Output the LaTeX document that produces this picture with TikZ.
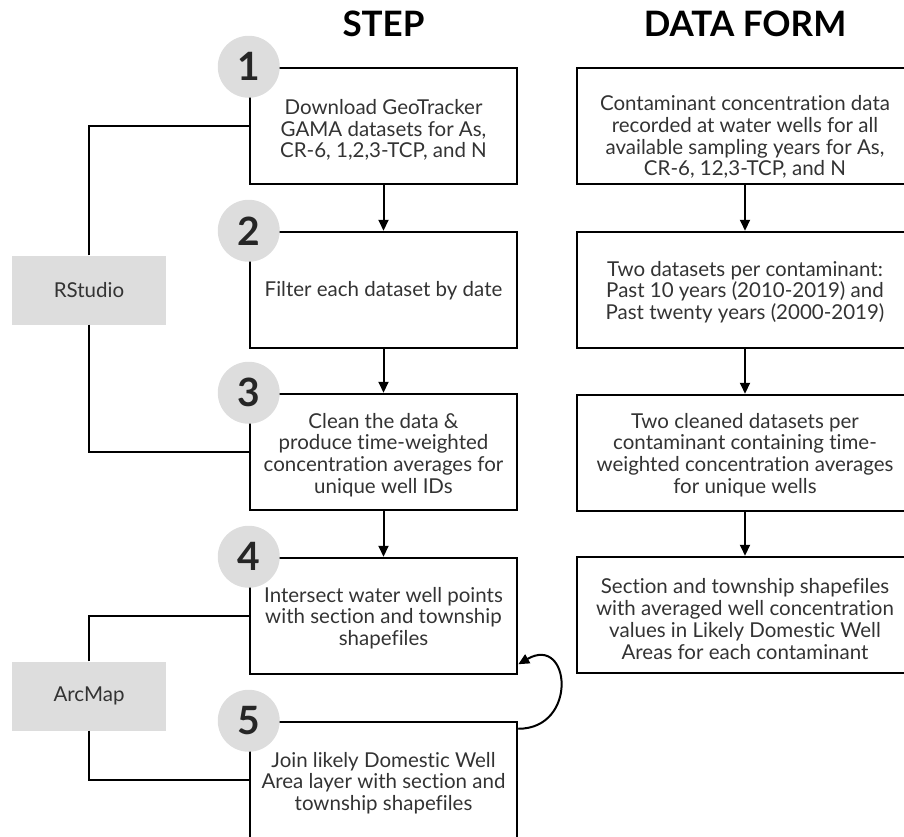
\documentclass[tikz,border=0pt]{standalone}
\usepackage{fontspec}
\setmainfont{Lato}[Ligatures=NoCommon]
\usetikzlibrary{positioning,arrows.meta}

\definecolor{softgray}{HTML}{DDDDDD}
\definecolor{inkgray}{HTML}{333333}

\begin{document}
\begin{tikzpicture}[
    x=1pt, y=-1pt,
    stepbox/.style={
        rectangle,
        draw=black,
        line width=2.5pt,
        minimum width=267pt,
        minimum height=116pt
    },
    formbox/.style={
        stepbox,
        minimum width=336pt
    },
    boxtext/.style={
        align=center,
        inner sep=0pt,
        text=inkgray,
        font=\fontsize{20.5}{21.7}\selectfont
    },
    num/.style={
        circle,
        fill=softgray,
        minimum size=62pt,
        inner sep=0pt,
        text=black!85,
        font=\fontsize{39}{39}\selectfont\bfseries
    },
    tool/.style={
        rectangle,
        fill=softgray,
        minimum width=154pt,
        minimum height=69pt,
        text=inkgray,
        font=\fontsize{20.5}{22}\selectfont
    },
    header/.style={
        font=\fontsize{35}{35}\selectfont\bfseries
    },
    arrow/.style={
        -{Triangle[length=11pt,width=10pt]},
        line width=2pt
    },
    link/.style={
        line width=2pt
    }
]
\useasboundingbox (0,0) rectangle (904,836);
\clip (0,0) rectangle (904,836);

% Headers
\node[header] (steptitle) at (383.5,24) {STEP};
\node[header] (formtitle) at (745,24) {DATA FORM};

% Steps
\node[stepbox] (step1) at (383.5,126) {};
\node[stepbox] (step2) at (383.5,290) {};
\node[stepbox] (step3) at (383.5,452) {};
\node[stepbox] (step4) at (383.5,616) {};
\node[stepbox] (step5) at (383.5,780) {};
\node[boxtext] (text1) at (383.5,130) {Download GeoTracker\\GAMA datasets for As,\\CR-6, 1,2,3-TCP, and N};
\node[boxtext] (text2) at (383.5,291) {Filter each dataset by date};
\node[boxtext] (text3) at (383.5,455) {Clean the data \&\\produce time-weighted\\concentration averages for\\unique well IDs};
\node[boxtext] (text4) at (383.5,618) {Intersect water well points\\with section and township\\shapefiles};
\node[boxtext] (text5) at (383.5,783) {Join likely Domestic Well\\Area layer with section and\\township shapefiles};

% Step numbers
\node[num] (num1) at (step1.north west) {1};
\node[num] (num2) at (step2.north west) {2};
\node[num] (num3) at (step3.north west) {3};
\node[num] (num4) at (step4.north west) {4};
\node[num] (num5) at (step5.north west) {5};

% Data forms
\node[formbox] (form1) at (745,126) {};
\node[formbox] (form2) at (745,290) {};
\node[formbox] (form3) at (745,453) {};
\node[formbox] (form4) at (745,615) {};
\node[boxtext] (formtext1) at (745,137) {Contaminant concentration data\\recorded at water wells for all\\available sampling years for As,\\CR-6, 12,3-TCP, and N};
\node[boxtext] (formtext2) at (745,292) {Two datasets per contaminant:\\Past 10 years (2010-2019) and\\Past twenty years (2000-2019)};
\node[boxtext] (formtext3) at (745,455) {Two cleaned datasets per\\contaminant containing time-\\weighted concentration averages\\for unique wells};
\node[boxtext] (formtext4) at (745,619) {Section and township shapefiles\\with averaged well concentration\\values in Likely Domestic Well\\Areas for each contaminant};

% Software
\node[tool] (rstudio) at (89,290) {RStudio};
\node[tool] (arcmap) at (89,696) {ArcMap};

% Brackets
\draw[link] (rstudio.north) |- (step1.west);
\draw[link] (rstudio.south) |- (step3.west);
\draw[link] (arcmap.north) |- (step4.west);
\draw[link] (arcmap.south) |- (step5.west);

% Arrows
\draw[arrow] (step1.south) -- (step2.north);
\draw[arrow] (step2.south) -- (step3.north);
\draw[arrow] (step3.south) -- (step4.north);
\draw[arrow] (form1.south) -- (form2.north);
\draw[arrow] (form2.south) -- (form3.north);
\draw[arrow] (form3.south) -- (form4.north);
\draw[arrow] ([yshift=-8pt]step5.north east) to[out=0,in=30,looseness=2.4] ([yshift=11pt]step4.south east);

\end{tikzpicture}
\end{document}
